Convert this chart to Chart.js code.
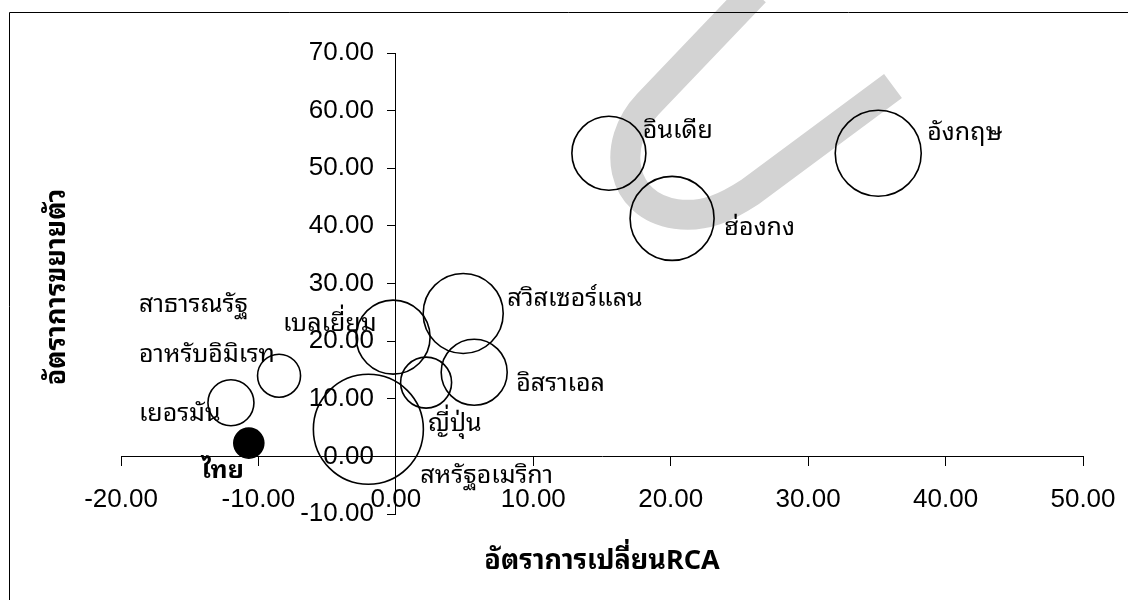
<!DOCTYPE html>
<html>
<head>
<meta charset="utf-8">
<script src="https://cdn.jsdelivr.net/npm/chart.js@4.4.1/dist/chart.umd.min.js"></script>
<style>
html,body{margin:0;padding:0;background:#fff;}
canvas{display:block;}
</style>
</head>
<body>
<canvas id="c" width="1128" height="600"></canvas>
<script>
// ---- data ----
const countries = ['ไทย','เยอรมัน','สาธารณรัฐ\nอาหรับอิมิเรท','เบลเยี่ยม','สหรัฐอเมริกา','ญี่ปุ่น','อิสราเอล','สวิสเซอร์แลน','อินเดีย','ฮ่องกง','อังกฤษ'];
const rcaChange = [-10.7, -12.0, -8.5, -0.2, -2.0, 2.2, 5.7, 4.9, 15.5, 20.1, 35.1];   // x: อัตราการเปลี่ยนRCA
const growthRate = [2.3, 9.3, 14.0, 20.7, 4.7, 12.8, 14.6, 24.8, 52.6, 41.3, 52.6];    // y: อัตราการขยายตัว
const bubbleSize = [15, 23, 21.5, 37, 55, 25.5, 33, 40, 37, 42, 43];                  // bubble radius
const xTicks = [-20, -10, 0, 10, 20, 30, 40, 50];
const yTicks = [-10, 0, 10, 20, 30, 40, 50, 60, 70];
const xTitle = 'อัตราการเปลี่ยนRCA';
const yTitle = 'อัตราการขยายตัว';

// ---- label placement (pixels relative to bubble centre) ----
const labelOffsets = [[-47,28],[-92,11],[-140,-71],[-110,-13],[52,47],[2,41],[42,12],[44,-14],[34,-22],[52,10],[49,-20]];
const labelBold = [true,false,false,false,false,false,false,false,false,false,false];
const highlight = 'ไทย';

const THAI = "'Noto Sans Thai Looped','Noto Sans Thai','Noto Serif Thai','Loma','Garuda',sans-serif";
const ARIAL = "'Liberation Sans', Arial, sans-serif";
const fmt = v => Number(v).toFixed(2);

const points = countries.map((c,i)=>({x:rcaChange[i], y:growthRate[i], r:bubbleSize[i]}));

const decor = {
  id:'decor',
  beforeDatasetsDraw(chart){
    const ctx = chart.ctx;
    ctx.save();
    ctx.strokeStyle = '#d3d3d3';
    ctx.lineWidth = 30;
    ctx.lineCap = 'butt';
    ctx.lineJoin = 'round';
    ctx.beginPath();
    ctx.moveTo(755,-8);
    ctx.lineTo(648,104);
    ctx.bezierCurveTo(610,144, 620,206, 676,214);
    ctx.bezierCurveTo(705,218, 727,207, 750,192);
    ctx.lineTo(893,86);
    ctx.stroke();
    ctx.restore();
  },
  afterDraw(chart){
    const ctx = chart.ctx;
    const xs = chart.scales.x, ys = chart.scales.y;
    ctx.save();
    // frame
    ctx.strokeStyle = '#000';
    ctx.lineWidth = 1;
    ctx.beginPath();
    ctx.moveTo(9.5, 600);
    ctx.lineTo(9.5, 12.5);
    ctx.lineTo(1128, 12.5);
    ctx.stroke();
    ctx.fillStyle = '#000';
    // tick labels for the axes crossing at zero
    const ax = xs.getPixelForValue(0);
    const ay = ys.getPixelForValue(0);
    ctx.font = '26px ' + ARIAL;
    ctx.textBaseline = 'middle';
    ctx.textAlign = 'right';
    yTicks.forEach(v=>{
      ctx.fillText(fmt(v), ax - 22, ys.getPixelForValue(v));
    });
    ctx.textAlign = 'center';
    xTicks.forEach(v=>{
      ctx.fillText(fmt(v), xs.getPixelForValue(v), ay + 43);
    });
    // point labels
    ctx.textAlign = 'left';
    countries.forEach((c,i)=>{
      const px = xs.getPixelForValue(rcaChange[i]);
      const py = ys.getPixelForValue(growthRate[i]);
      ctx.font = (labelBold[i] ? 'bold ' : '') + '25px ' + THAI;
      c.split('\n').forEach((line,k)=>{
        ctx.fillText(line, px + labelOffsets[i][0], py + labelOffsets[i][1] + k*50);
      });
    });
    // axis titles
    const ca = chart.chartArea;
    ctx.font = 'bold 27px ' + THAI;
    ctx.textAlign = 'center';
    ctx.fillText(xTitle, (ca.left+ca.right)/2, 561);
    ctx.translate(57, 287);
    ctx.rotate(-Math.PI/2);
    ctx.fillText(yTitle, 0, 0);
    ctx.restore();
  }
};

new Chart(document.getElementById('c'), {
  type:'bubble',
  data:{
    labels: countries,
    datasets:[{
      data: points,
      backgroundColor: countries.map(c => c===highlight ? '#000' : 'rgba(0,0,0,0)'),
      borderColor:'#000',
      borderWidth:1.6,
      hoverBorderWidth:1.6
    }]
  },
  options:{
    responsive:false,
    animation:false,
    events:[],
    layout:{autoPadding:false, padding:{left:121, right:45, top:53, bottom:86}},
    plugins:{legend:{display:false}, tooltip:{enabled:false}},
    scales:{
      x:{
        type:'linear', min:-20, max:50,
        position:{y:0},
        afterBuildTicks(s){ s.ticks = xTicks.map(v=>({value:v})); },
        ticks:{display:false, autoSkip:false},
        grid:{drawOnChartArea:false, drawTicks:true, tickLength:9, color:'#000'},
        border:{color:'#000', width:1}
      },
      y:{
        type:'linear', min:-10, max:70,
        position:{x:0},
        afterBuildTicks(s){ s.ticks = yTicks.map(v=>({value:v})); },
        ticks:{display:false, autoSkip:false},
        grid:{drawOnChartArea:false, drawTicks:true, tickLength:8, color:'#000'},
        border:{color:'#000', width:1}
      }
    }
  },
  plugins:[decor]
});
</script>
</body>
</html>
